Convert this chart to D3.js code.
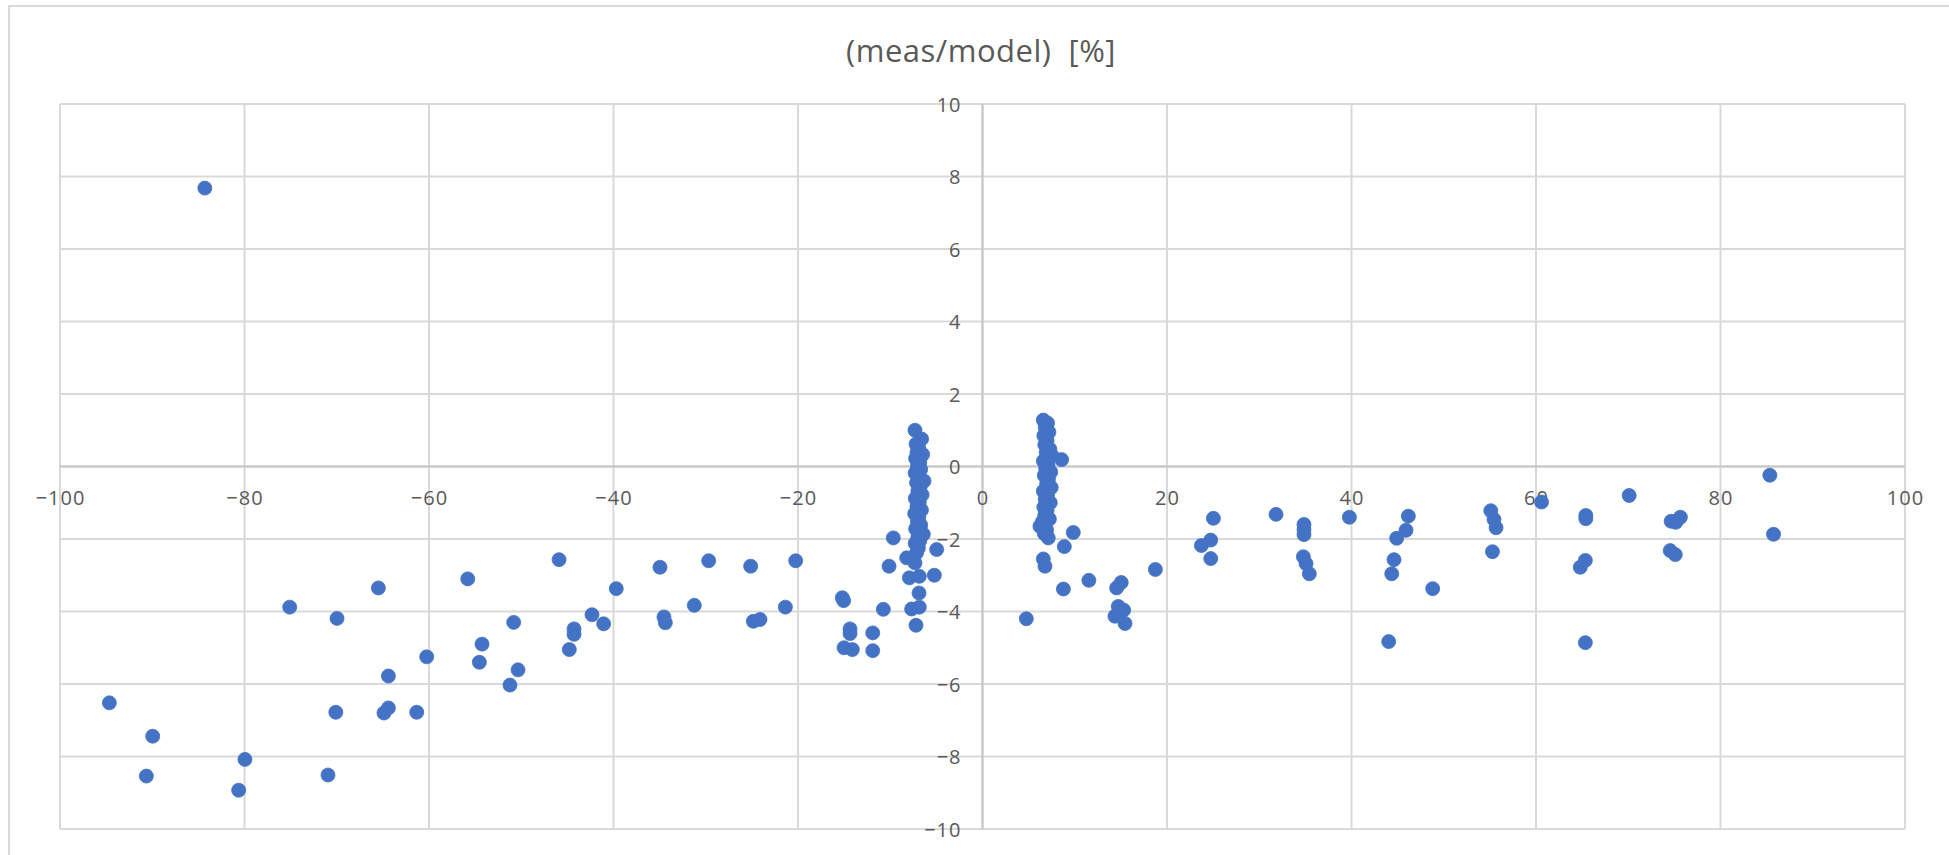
<!DOCTYPE html>
<html>
<head>
<meta charset="utf-8">
<script src="https://cdn.jsdelivr.net/npm/d3@7/dist/d3.min.js"></script>
<style>
  html, body { margin: 0; padding: 0; background: #ffffff; }
  svg { display: block; }
  .title { font-family: "Open Sans", "Noto Sans", sans-serif; fill: #595959; white-space: pre; }
  .tick text { font-family: "Open Sans", "Noto Sans", sans-serif; fill: #595959; }
</style>
</head>
<body>
<svg id="chart" width="1949" height="855"></svg>
<script>
// Axis ticks
const xTicks = [-100, -80, -60, -40, -20, 0, 20, 40, 60, 80, 100];
const yTicks = [-10, -8, -6, -4, -2, 0, 2, 4, 6, 8, 10];

// (x, meas/model deviation %) — negative side, spread
const negSidePoints = [
  [-84.3, 7.68],
  [-94.65, -6.52], [-89.95, -7.44], [-90.64, -8.54], [-79.95, -8.08], [-80.63, -8.93],
  [-75.1, -3.88], [-69.97, -4.19], [-70.1, -6.78], [-70.95, -8.51],
  [-65.49, -3.35], [-64.4, -5.78], [-64.4, -6.66], [-64.88, -6.8], [-61.33, -6.78], [-60.25, -5.25],
  [-55.8, -3.1], [-54.25, -4.9], [-54.54, -5.4], [-50.82, -4.3], [-50.35, -5.61], [-51.22, -6.03],
  [-45.9, -2.57], [-44.79, -5.05], [-44.28, -4.48], [-44.28, -4.63], [-42.33, -4.09], [-41.07, -4.34],
  [-39.7, -3.37], [-34.96, -2.78], [-34.53, -4.15], [-34.38, -4.31], [-31.24, -3.83], [-29.68, -2.6],
  [-25.13, -2.75], [-24.84, -4.27], [-24.12, -4.22], [-21.37, -3.88], [-20.25, -2.6],
  [-15.2, -3.62], [-15.05, -3.7], [-14.36, -4.48], [-14.36, -4.61], [-15.01, -5.0], [-14.11, -5.05],
  [-11.9, -4.59], [-11.9, -5.08], [-10.75, -3.94], [-10.13, -2.75], [-9.67, -1.97],
  [-8.22, -2.52], [-7.93, -3.07], [-6.85, -3.03], [-6.88, -3.49], [-7.68, -3.93], [-6.85, -3.88],
  [-7.21, -4.38], [-5.22, -3.0], [-4.97, -2.29]
];

// Dense column near x = -7
const negColumnPoints = [
  [-7.32, 1.0], [-6.6, 0.76], [-7.2, 0.62], [-6.9, 0.5], [-7.1, 0.4], [-6.49, 0.33],
  [-7.25, 0.22], [-6.8, 0.12], [-7.05, 0.02], [-6.7, -0.08], [-7.3, -0.18], [-6.95, -0.28],
  [-6.34, -0.4], [-7.15, -0.45], [-6.75, -0.55], [-7.0, -0.68], [-6.55, -0.78], [-7.28, -0.88],
  [-6.85, -0.98], [-7.1, -1.1], [-6.62, -1.2], [-7.35, -1.3], [-6.9, -1.4], [-7.05, -1.52],
  [-6.7, -1.62], [-7.25, -1.72], [-6.42, -1.87], [-7.0, -1.95], [-6.8, -2.05], [-7.3, -2.12],
  [-6.95, -2.25], [-7.15, -2.38], [-7.32, -2.66]
];

// Dense column near x = +7
const posColumnPoints = [
  [6.59, 1.28], [7.05, 1.2], [6.8, 1.08], [7.2, 0.95], [6.65, 0.85], [7.0, 0.72],
  [6.75, 0.6], [7.3, 0.48], [6.9, 0.38], [7.55, 0.3], [8.58, 0.19], [6.6, 0.15],
  [7.1, 0.05], [6.85, -0.05], [7.4, -0.15], [6.7, -0.25], [7.15, -0.35], [6.95, -0.48],
  [7.45, -0.58], [6.6, -0.68], [7.05, -0.78], [6.8, -0.9], [7.35, -1.0], [6.65, -1.12],
  [7.0, -1.22], [6.75, -1.35], [7.25, -1.45], [6.5, -1.52], [6.23, -1.65], [6.95, -1.75],
  [6.7, -1.85], [7.13, -1.97], [6.59, -2.55], [6.77, -2.75]
];

// Positive side, spread
const posSidePoints = [
  [4.75, -4.2], [9.84, -1.82], [8.87, -2.21], [8.77, -3.38], [11.53, -3.14],
  [14.54, -3.35], [15.04, -3.2], [14.72, -3.86], [15.3, -3.96], [14.36, -4.13], [15.45, -4.33],
  [18.74, -2.84], [23.73, -2.18], [24.74, -2.03], [25.03, -1.43], [24.74, -2.54], [31.82, -1.32],
  [34.85, -1.6], [34.85, -1.74], [34.85, -1.88], [34.78, -2.49], [35.07, -2.68], [35.43, -2.96],
  [39.77, -1.4], [44.03, -4.83], [44.36, -2.96], [44.61, -2.57], [44.9, -1.98], [45.91, -1.76],
  [46.16, -1.37], [48.8, -3.37], [55.1, -1.22], [55.45, -1.46], [55.67, -1.69], [55.28, -2.35],
  [60.6, -0.98], [65.4, -1.35], [65.4, -1.44], [65.35, -2.59], [64.8, -2.78], [65.35, -4.86],
  [70.1, -0.8], [74.65, -1.51], [75.15, -1.54], [75.65, -1.4], [74.55, -2.32], [75.1, -2.43],
  [85.35, -0.24], [85.75, -1.87]
];

const allPoints = negSidePoints.concat(negColumnPoints, posColumnPoints, posSidePoints);

const svg = d3.select("#chart");
const W = 1949, H = 855;

svg.append("rect").attr("width", W).attr("height", H).attr("fill", "#ffffff");

// Chart area frame (top and left edges visible)
svg.append("path")
  .attr("d", `M9,${H} L9,6 L${W},6`)
  .attr("fill", "none")
  .attr("stroke", "#d9d9d9")
  .attr("stroke-width", 2);

const x = d3.scaleLinear().domain([-100, 100]).range([60, 1905]);
const y = d3.scaleLinear().domain([-10, 10]).range([829, 104]);

// Gridlines
const grid = svg.append("g");
grid.selectAll("line.v").data(xTicks).join("line")
  .attr("class", "v")
  .attr("x1", d => x(d)).attr("x2", d => x(d))
  .attr("y1", y(10)).attr("y2", y(-10))
  .attr("stroke", "#d9d9d9").attr("stroke-width", 2);
grid.selectAll("line.h").data(yTicks).join("line")
  .attr("class", "h")
  .attr("x1", x(-100)).attr("x2", x(100))
  .attr("y1", d => y(d)).attr("y2", d => y(d))
  .attr("stroke", "#d9d9d9").attr("stroke-width", 2);

// Axis lines through the origin
svg.append("line")
  .attr("x1", x(-100)).attr("x2", x(100)).attr("y1", y(0)).attr("y2", y(0))
  .attr("stroke", "#c6c6c6").attr("stroke-width", 2);
svg.append("line")
  .attr("x1", x(0)).attr("x2", x(0)).attr("y1", y(10)).attr("y2", y(-10))
  .attr("stroke", "#c6c6c6").attr("stroke-width", 2);

// Axis labels
const xAxis = svg.append("g")
  .attr("transform", `translate(0,${y(0)})`)
  .call(d3.axisBottom(x).tickValues(xTicks).tickSize(0).tickPadding(0).tickFormat(d3.format("d")));
xAxis.select(".domain").remove();
xAxis.selectAll(".tick text")
  .attr("y", 31).attr("dy", "0.35em")
  .style("font-size", "20px").style("letter-spacing", "1px");

const yAxis = svg.append("g")
  .attr("transform", `translate(${x(0)},0)`)
  .call(d3.axisLeft(y).tickValues(yTicks).tickSize(0).tickPadding(21).tickFormat(d3.format("d")));
yAxis.select(".domain").remove();
yAxis.selectAll(".tick text")
  .attr("dy", "0.35em")
  .style("font-size", "20px").style("letter-spacing", "1px");

// Markers
svg.append("g").selectAll("circle").data(allPoints).join("circle")
  .attr("cx", d => x(d[0]))
  .attr("cy", d => y(d[1]))
  .attr("r", 7)
  .attr("fill", "#4472c4")
  .attr("stroke", "#4472c4")
  .attr("stroke-width", 0.8);

// Title
svg.append("text")
  .attr("class", "title")
  .attr("x", 981).attr("y", 51)
  .attr("dy", "0.35em")
  .attr("text-anchor", "middle")
  .style("font-size", "31px")
  .style("letter-spacing", "0.5px")
  .text("(meas/model)  [%]");
</script>
</body>
</html>
